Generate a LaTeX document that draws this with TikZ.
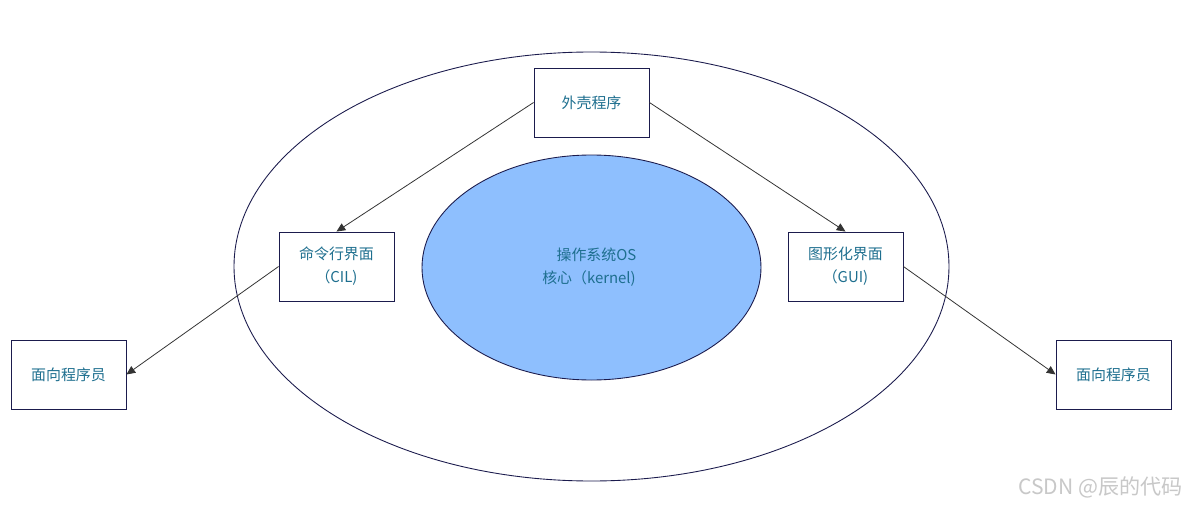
\documentclass[tikz,border=0pt]{standalone}
\usepackage{fontspec}
\setmainfont{Noto Sans CJK SC}
\usetikzlibrary{arrows.meta,shapes.geometric}
\definecolor{navy}{HTML}{1B1B4D}
\definecolor{txt}{HTML}{1E6F8F}
\definecolor{core}{HTML}{8EBFFE}
\definecolor{wm}{HTML}{C8C8C8}
\begin{document}
\begin{tikzpicture}[x=0.02cm,y=-0.02cm,
  box/.style={draw=navy,line width=0.5pt,fill=white,minimum width=115*0.02cm,minimum height=69*0.02cm,inner sep=0pt,text=txt,font=\fontsize{8.5}{13}\selectfont,align=center},
  conn/.style={draw=black!80,line width=0.45pt,-{Triangle[length=5pt,width=4.5pt]}}]
\useasboundingbox (0,0) rectangle (1188,507);
\fill[white] (0,0) rectangle (1188,507);
\draw[navy,line width=0.5pt] (591.5,266.5) ellipse [x radius=357.5, y radius=214.5];
\node[ellipse,draw=navy,fill=core,line width=0.5pt,minimum width=339*0.02cm,minimum height=225*0.02cm,inner sep=0pt] (core) at (591.5,267.5) {};
\node[text=txt,font=\fontsize{8.5}{13}\selectfont,align=center] (coretext) at (589,267) {\hspace*{1em}操作系统OS\\核心（kernel)};
\node[box] (shell) at (591.5,102.5) {外壳程序};
\node[box] (cli) at (336.5,266.5) {命令行界面\\（CIL)};
\node[box] (gui) at (845.5,266.5) {图形化界面\\（GUI)};
\node[box] (pl) at (68.5,374.5) {面向程序员};
\node[box] (pr) at (1113.5,374.5) {面向程序员};
\draw[conn] (shell.west) -- (cli.north);
\draw[conn] (shell.east) -- (gui.north);
\draw[conn] (cli.west) -- (pl.east);
\draw[conn] (gui.east) -- (pr.west);
\node[text=wm,font=\fontsize{12}{14}\selectfont,anchor=east,inner sep=0pt] (wmark) at (1183,487) {CSDN @辰的代码};
\end{tikzpicture}
\end{document}
